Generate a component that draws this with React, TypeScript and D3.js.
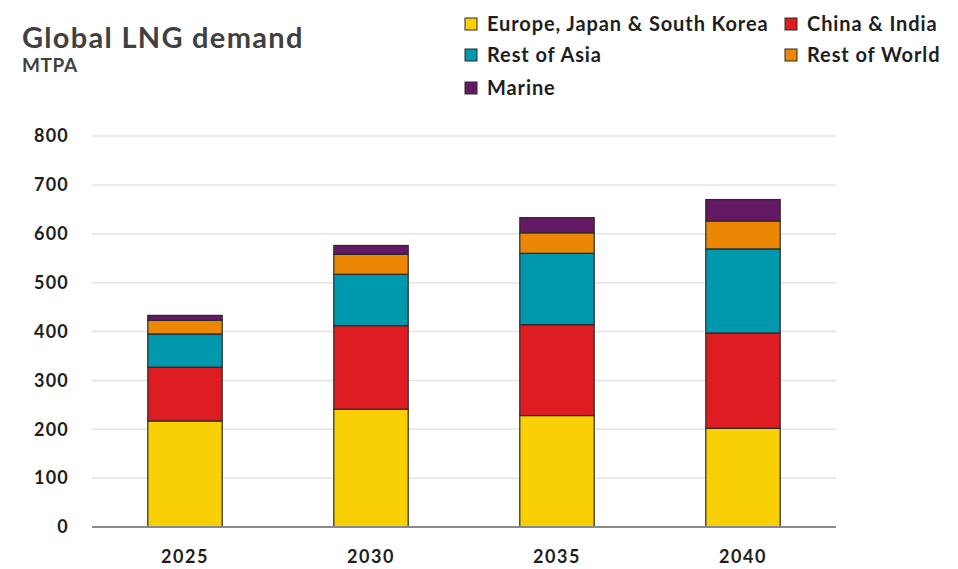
import * as d3 from "d3";
import { useEffect, useRef } from "react";

const years = ["2025", "2030", "2035", "2040"];
const seriesNames = [
  "Europe, Japan & South Korea",
  "China & India",
  "Rest of Asia",
  "Rest of World",
  "Marine",
];
const europeJapanKorea = [217, 241, 228, 202];
const chinaIndia = [110, 171, 186, 195];
const restOfAsia = [68, 105, 146, 172];
const restOfWorld = [28, 41, 42, 57];
const marine = [10, 18, 31, 44];
const colors = ["#f9cf06", "#dd1d21", "#0098ad", "#eb8705", "#641964"];
const yTicks = [0, 100, 200, 300, 400, 500, 600, 700, 800];

const FONT = "Lato, 'Open Sans', sans-serif";

export default function App() {
  const ref = useRef<SVGSVGElement>(null);

  useEffect(() => {
    const width = 958,
      height = 569;
    const margin = { top: 136, right: 122, bottom: 42, left: 92 };

    const svg = d3.select(ref.current);
    svg.selectAll("*").remove();

    const table = years.map((y, i) => ({
      year: y,
      [seriesNames[0]]: europeJapanKorea[i],
      [seriesNames[1]]: chinaIndia[i],
      [seriesNames[2]]: restOfAsia[i],
      [seriesNames[3]]: restOfWorld[i],
      [seriesNames[4]]: marine[i],
    }));
    const stacked = d3.stack<any>().keys(seriesNames)(table);

    const x = d3
      .scaleBand()
      .domain(years)
      .range([margin.left, width - margin.right])
      .paddingInner(0.6)
      .paddingOuter(0.3);
    const y = d3
      .scaleLinear()
      .domain([0, 800])
      .range([height - margin.bottom, margin.top]);

    // gridlines
    svg
      .append("g")
      .selectAll("line")
      .data(yTicks.filter((d) => d > 0))
      .enter()
      .append("line")
      .attr("x1", margin.left)
      .attr("x2", width - margin.right)
      .attr("y1", (d) => y(d))
      .attr("y2", (d) => y(d))
      .attr("stroke", "#e3e3e3")
      .attr("stroke-width", 1.5);

    // y labels
    svg
      .append("g")
      .selectAll("text")
      .data(yTicks)
      .enter()
      .append("text")
      .attr("x", 69)
      .attr("y", (d) => y(d))
      .attr("dy", "0.35em")
      .attr("text-anchor", "end")
      .attr("font-family", FONT)
      .attr("font-weight", 700)
      .attr("font-size", 18)
      .attr("letter-spacing", 1.2)
      .attr("fill", "#1e1e1e")
      .text((d) => d);

    // bars
    svg
      .append("g")
      .selectAll("g")
      .data(stacked)
      .enter()
      .append("g")
      .attr("fill", (d, i) => colors[i])
      .selectAll("rect")
      .data((d) => d)
      .enter()
      .append("rect")
      .attr("x", (d) => x(d.data.year)!)
      .attr("y", (d) => y(d[1]))
      .attr("width", x.bandwidth())
      .attr("height", (d) => y(d[0]) - y(d[1]))
      .attr("stroke", "#2a2a2a")
      .attr("stroke-width", 1.2);

    // baseline
    svg
      .append("line")
      .attr("x1", margin.left)
      .attr("x2", width - margin.right)
      .attr("y1", y(0))
      .attr("y2", y(0))
      .attr("stroke", "#8a8a8a")
      .attr("stroke-width", 2);

    // x labels
    svg
      .append("g")
      .selectAll("text")
      .data(years)
      .enter()
      .append("text")
      .attr("x", (d) => x(d)! + x.bandwidth() / 2)
      .attr("y", 557)
      .attr("dy", "0.35em")
      .attr("text-anchor", "middle")
      .attr("font-family", FONT)
      .attr("font-weight", 700)
      .attr("font-size", 18)
      .attr("letter-spacing", 1.5)
      .attr("fill", "#1e1e1e")
      .text((d) => d);

    // title
    svg
      .append("text")
      .attr("x", 22)
      .attr("y", 48)
      .attr("font-family", FONT)
      .attr("font-weight", 700)
      .attr("font-size", 29)
      .attr("letter-spacing", 1.3)
      .attr("fill", "#404040")
      .text("Global LNG demand");
    svg
      .append("text")
      .attr("x", 22)
      .attr("y", 72)
      .attr("font-family", FONT)
      .attr("font-weight", 700)
      .attr("font-size", 19)
      .attr("letter-spacing", 0.6)
      .attr("fill", "#404040")
      .text("MTPA");

    // legend
    const legendPos = [
      [465, 24],
      [785, 24],
      [465, 55],
      [785, 55],
      [465, 88],
    ];
    const legend = svg
      .append("g")
      .selectAll("g")
      .data(seriesNames)
      .enter()
      .append("g")
      .attr("transform", (d, i) => `translate(${legendPos[i][0]},${legendPos[i][1]})`);
    legend
      .append("rect")
      .attr("x", 0)
      .attr("y", -6)
      .attr("width", 12)
      .attr("height", 12)
      .attr("fill", (d, i) => colors[i])
      .attr("stroke", "#2a2a2a")
      .attr("stroke-width", 1);
    legend
      .append("text")
      .attr("x", 22)
      .attr("y", 0)
      .attr("dy", "0.35em")
      .attr("font-family", FONT)
      .attr("font-weight", 700)
      .attr("font-size", 20)
      .attr("letter-spacing", 0.9)
      .attr("fill", "#1e1e1e")
      .text((d) => d);
  }, []);

  return (
    <div style={{ position: "absolute", left: 0, top: 0 }}>
      <svg ref={ref} width={958} height={569} style={{ display: "block", background: "#fff" }} />
    </div>
  );
}
